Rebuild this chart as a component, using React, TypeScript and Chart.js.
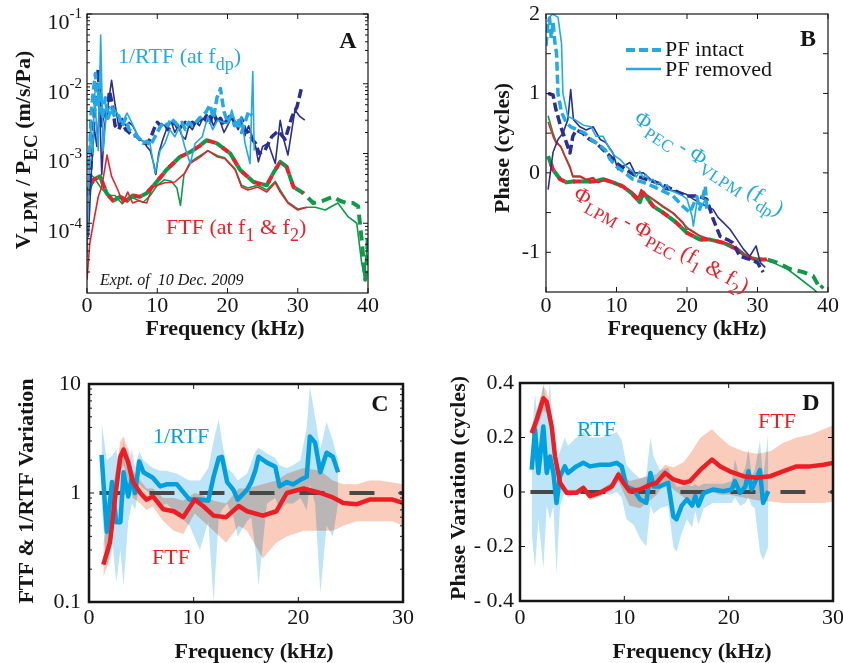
import React, { useEffect, useRef } from 'react';
import { Chart, registerables } from 'chart.js';

Chart.register(...registerables);

const W = 843;
const H = 663;
const SERIF = '"Liberation Serif", "Times New Roman", Times, serif';
const INK = '#151515';

const LB = '#23a9e4';
const DB = '#2b2f8f';
const RD = '#e6222c';
const GN = '#0e9a47';
const C_BLUE = '#00a0de';
const C_RED = '#ec1d25';
const BAND_BLUE = 'rgb(190,228,247)';
const BAND_SALMON = 'rgb(250,204,187)';
const REF_GRAY = 'rgb(72,72,72)';

// ---------------- Panel A : magnitude (m/s/Pa) ----------------
const aLbDashF = [0.3,0.6,0.9,1.2,1.5,1.8,2.2,2.6,3.0,3.5,4.0,4.5,5.0,5.5,6.0,6.5,7.0,7.5,8.0,8.5,9.0,9.5,10.0,10.5,11.0,11.5,12.0,12.5,13.0,13.5,14.0,14.5,15.0,15.5,16.0,16.5,17.0,17.5,18.0,18.5,19.0,19.5,20.0,20.5,21.0,21.5,22.0,22.5,23.0,23.5];
const aLbDashV = [6.3e-4,4.0e-3,7.9e-3,1.4e-2,5.0e-3,1.0e-2,3.2e-3,6.3e-3,3.2e-3,4.5e-3,3.2e-3,3.5e-3,2.5e-3,3.2e-3,2.2e-3,2.0e-3,1.8e-3,1.6e-3,1.4e-3,1.5e-3,1.3e-3,1.6e-3,2.0e-3,2.5e-3,2.8e-3,2.5e-3,3.2e-3,2.8e-3,2.5e-3,2.8e-3,2.2e-3,2.8e-3,2.5e-3,2.8e-3,3.2e-3,3.5e-3,4.0e-3,5.0e-3,3.2e-3,6.3e-3,8.5e-3,4.0e-3,2.8e-3,3.5e-3,2.5e-3,3.2e-3,2.0e-3,2.8e-3,4.0e-3,3.5e-3];
const aLbSolidF = [0.0,0.2,0.5,0.8,1.1,1.4,1.6,1.95,2.3,2.8,3.6,4.3,5.0,5.7,6.4,7.3,8.2,8.9,9.7,10.4,11.1,11.8,12.5,13.2,13.9,14.7,15.4,16.4,17.2,17.9,18.6,19.6,20.1,20.6,21.3,22.0,22.5,23.2,23.6,23.8];
const aLbSolidV = [3.2e-5,2.5e-4,2.5e-3,1.0e-3,7.4e-3,2.0e-3,1.1e-3,5.0e-2,1.1e-3,4.2e-3,4.7e-3,3.8e-3,2.75e-3,3.8e-3,2.75e-3,1.74e-3,1.4e-3,1.5e-3,5.2e-4,1.1e-3,1.4e-3,2.2e-3,1.74e-3,2.4e-3,1.26e-3,7.2e-4,1.4e-3,1.74e-3,3.4e-3,2.2e-3,3.0e-3,2.75e-3,2.75e-3,4.2e-3,2.4e-3,3.4e-3,1.4e-3,7.2e-4,1.5e-2,1.1e-3];
const aDbSolidF = [0.2,0.6,1.0,1.4,1.8,2.1,2.5,3.0,3.5,4.0,4.5,5.0,5.5,6.0,6.5,7.0,7.5,8.0,8.5,9.0,9.5,9.8,10.2,10.8,11.5,12.0,12.5,13.0,13.5,14.0,14.5,15.0,15.5,16.0,16.5,17.0,17.5,18.0,18.5,19.0,19.5,20.0,20.5,21.0,21.5,22.0,22.5,23.0,23.5,24.0,24.4,25.0,25.8,26.3,26.8,27.5,28.0,28.6,29.6,30.3,31.0];
const aDbSolidV = [6.3e-5,5.0e-4,2.5e-3,1.26e-3,5.0e-3,5.0e-4,2.5e-3,5.0e-3,1.12e-2,5.0e-3,2.5e-3,3.2e-3,2.5e-3,2.8e-3,2.5e-3,2.0e-3,1.6e-3,1.5e-3,1.26e-3,1.1e-3,7.1e-4,5.0e-4,1.0e-3,1.6e-3,2.5e-3,2.8e-3,2.0e-3,2.5e-3,1.8e-3,1.6e-3,2.5e-3,2.2e-3,2.8e-3,2.5e-3,3.2e-3,2.8e-3,3.5e-3,2.5e-3,3.2e-3,2.8e-3,2.0e-3,2.5e-3,3.2e-3,2.8e-3,2.2e-3,2.8e-3,1.8e-3,2.5e-3,1.8e-3,1.26e-3,7.6e-4,1.26e-3,1.4e-3,1.0e-3,7.2e-4,3.0e-3,1.6e-3,9.5e-4,4.2e-3,3.4e-3,3.0e-3];
const aDbDashF = [0.3,0.8,1.2,1.6,2.0,2.4,2.8,3.2,3.6,4.0,4.5,5.0,5.5,6.0,6.5,7.0,7.5,8.0,8.5,9.0,9.5,10.0,10.5,11.0,11.5,12.0,12.5,13.0,13.5,14.0,14.5,15.0,15.5,16.0,16.5,17.0,17.5,18.0,18.5,19.0,19.5,20.0,20.5,21.0,21.5,22.0,22.5,23.0,23.5,24.0,24.5,25.3,26.3,27.2,28.2,29.2,29.9,30.6];
const aDbDashV = [2.5e-4,1.6e-3,6.3e-3,1.6e-2,2.5e-3,4.0e-3,3.2e-3,7.9e-3,5.0e-3,2.5e-3,2.2e-3,2.8e-3,2.2e-3,2.0e-3,1.8e-3,1.8e-3,1.6e-3,1.4e-3,1.4e-3,1.6e-3,2.2e-3,2.8e-3,2.5e-3,2.8e-3,2.2e-3,2.5e-3,2.8e-3,2.2e-3,2.5e-3,2.8e-3,2.5e-3,2.8e-3,2.5e-3,3.2e-3,2.8e-3,3.5e-3,2.8e-3,4.0e-3,2.8e-3,3.2e-3,2.5e-3,3.2e-3,3.5e-3,2.8e-3,2.5e-3,3.2e-3,2.2e-3,2.0e-3,1.6e-3,1.4e-3,1.0e-3,1.1e-3,1.74e-3,2.1e-3,1.6e-3,3.4e-3,4.7e-3,9.3e-3];
const aFtfIntactF = [0.2,0.9,1.85,2.8,3.7,4.7,5.7,6.5,7.5,8.5,9.9,11.3,13.2,14.7,16.1,17.0,18.5,20.4,21.8,23.7,25.6,26.5,27.5,28.4,29.4,30.8,32.2,33.6,35.0,36.0,37.0,37.9,38.6,39.1,39.6,39.8,40.0];
const aFtfIntactV = [3.0e-4,4.2e-4,4.7e-4,2.7e-4,2.1e-4,2.4e-4,2.1e-4,2.5e-4,2.4e-4,2.7e-4,3.9e-4,5.8e-4,8.9e-4,1.05e-3,1.3e-3,1.55e-3,1.4e-3,1.0e-3,5.8e-4,3.9e-4,3.5e-4,5.2e-4,7.6e-4,6.5e-4,3.3e-4,2.7e-4,1.95e-4,2.1e-4,2.4e-4,2.1e-4,1.95e-4,1.95e-4,1.74e-4,5.8e-5,1.55e-5,2.7e-5,7.2e-5];
const aFtfRemRedF = [0.0,0.4,0.9,1.6,2.1,2.85,3.5,4.4,5.1,5.8,6.5,7.3,8.5,9.3,10.0,11.1,12.5,13.9,14.7,16.1,17.2,18.6,19.6,21.1,22.0,22.9,24.3,25.6,26.8,27.5,28.6,30.0,31.3];
const aFtfRemRedV = [1.55e-5,5.2e-5,1.0e-4,2.4e-4,3.3e-4,9.5e-4,4.7e-4,3.0e-4,1.95e-4,2.8e-4,1.95e-4,2.1e-4,1.95e-4,3.3e-4,3.5e-4,3.8e-4,3.9e-4,5.2e-4,7.2e-4,8.9e-4,1.1e-3,8.9e-4,8.5e-4,5.8e-4,3.3e-4,3.0e-4,3.3e-4,2.8e-4,3.8e-4,2.8e-4,1.95e-4,1.55e-4,1.7e-4];
const aFtfRemGreenF = [0.5,1.0,2.0,3.0,4.0,5.0,6.0,7.0,8.0,9.0,10.0,11.0,12.0,12.8,13.3,13.8,14.7,16.1,17.2,18.6,19.6,21.1,22.0,22.9,24.3,25.6,26.8,27.5,28.6,30.0,31.3,32.5,33.9,35.7,37.2,38.4,39.1,39.5,39.9];
const aFtfRemGreenV = [5.0e-4,4.5e-4,3.2e-4,2.5e-4,2.5e-4,1.9e-4,2.4e-4,2.2e-4,2.0e-4,2.5e-4,3.5e-4,4.2e-4,4.0e-4,3.2e-4,1.8e-4,5.0e-4,7.6e-4,9.3e-4,1.1e-3,9.3e-4,8.7e-4,6.0e-4,3.5e-4,3.2e-4,3.5e-4,3.0e-4,4.0e-4,3.0e-4,2.0e-4,1.6e-4,1.7e-4,1.7e-4,1.55e-4,1.95e-4,1.23e-4,1.0e-4,2.7e-5,1.7e-5,5.1e-5];
const aRedDashMaxF = 31;

// ---------------- Panel B : phase (cycles) ----------------
const bLbDashF = [0.0,0.25,0.5,0.75,1.0,1.25,1.5,1.7,2.2,2.9,3.5,4.5,5.5,6.4,7.4,8.4,9.1,10.0,11.2,12.3,13.8,15.2,16.6,18.0,19.4,20.4,21.4,21.8,22.6,22.8];
const bLbDashV = [1.6,1.85,1.95,1.7,1.9,1.65,1.5,1.0,0.76,0.63,0.58,0.54,0.5,0.42,0.36,0.29,0.17,0.08,0.0,-0.08,-0.12,-0.17,-0.23,-0.29,-0.42,-0.5,-0.3,-0.46,-0.17,-0.46];
const bLbSolidF = [0.2,0.6,1.0,1.3,1.7,2.2,2.4,3.1,4.1,5.3,6.4,7.1,8.1,9.1,9.8,10.5,11.4,12.3,12.8,13.3,13.8,14.2,14.7,15.2,15.7,16.2,16.7,17.2,17.6,18.5,19.4,20.0,20.7,20.9,21.4,22.1,22.6,23.0];
const bLbSolidV = [1.9,1.97,2.0,1.98,1.96,1.63,1.0,0.71,0.67,0.6,0.58,0.46,0.46,0.29,0.21,0.17,0.08,0.02,-0.05,0.02,-0.06,-0.02,-0.1,-0.08,-0.15,-0.12,-0.2,-0.15,-0.22,-0.25,-0.29,-0.33,-0.54,-0.67,-0.38,-0.42,-0.33,-0.42];
const bDbSolidF = [0.3,1.0,1.7,2.4,3.1,3.5,3.9,4.8,5.7,6.7,7.7,8.5,9.5,10.2,10.9,11.9,12.6,13.8,14.8,15.9,17.0,18.4,19.9,20.9,21.8,22.8,23.7,24.4,25.1,26.1,27.1,28.0,28.9,29.8,30.4,31.1];
const bDbSolidV = [-0.21,0.26,0.42,0.5,0.67,1.05,0.67,0.58,0.54,0.58,0.42,0.38,0.25,0.04,0.08,0.13,0.0,0.0,-0.08,-0.12,-0.21,-0.23,-0.27,-0.33,-0.38,-0.42,-0.46,-0.56,-0.62,-0.71,-0.84,-0.96,-1.05,-0.92,-1.13,-1.19];
const bDbDashF = [0.3,1.0,1.4,2.1,2.9,3.4,3.8,4.3,5.2,6.2,7.1,8.1,9.1,9.9,11.3,12.8,14.2,15.6,17.0,18.4,19.9,21.4,22.8,23.7,24.7,25.7,26.5,27.5,28.9,30.0,30.8];
const bDbDashV = [1.0,0.98,0.8,0.58,0.38,0.25,0.46,0.54,0.5,0.42,0.38,0.29,0.21,0.13,0.04,-0.04,-0.08,-0.12,-0.17,-0.23,-0.29,-0.29,-0.33,-0.58,-0.8,-0.84,-0.88,-1.05,-1.09,-1.13,-1.25];
const bFtfIntactF = [0.3,1.0,2.0,2.9,3.8,5.2,6.7,8.1,9.5,10.9,12.3,13.3,13.8,15.2,16.6,18.4,19.9,21.8,23.3,25.1,27.1,28.5,29.9,31.3,32.8,34.6,36.5,37.9,38.9,39.3];
const bFtfIntactV = [0.21,0.04,-0.08,-0.12,-0.11,-0.11,-0.11,-0.08,-0.12,-0.17,-0.27,-0.37,-0.25,-0.42,-0.5,-0.62,-0.75,-0.84,-0.84,-0.88,-0.96,-1.06,-1.09,-1.09,-1.13,-1.21,-1.25,-1.3,-1.46,-1.42];
const bFtfRemRedF = [0.3,1.0,1.4,2.1,2.7,3.4,3.8,4.8,5.7,6.7,7.4,8.5,9.5,10.9,12.1,13.1,13.5,14.2,15.2,16.6,18.0,19.4,19.9,20.4,21.8,23.3,24.7,26.1,27.2,28.5,29.9,31.3];
const bFtfRemRedV = [0.64,0.46,0.38,0.33,0.21,0.08,-0.04,-0.04,-0.08,-0.06,-0.12,-0.08,-0.12,-0.17,-0.23,-0.31,-0.21,-0.27,-0.33,-0.42,-0.5,-0.62,-0.71,-0.71,-0.79,-0.84,-0.86,-0.9,-0.96,-1.06,-1.09,-1.09];
const bFtfRemGreenF = [0.3,1.0,1.4,2.1,2.7,3.4,3.8,4.8,5.7,6.7,7.4,8.5,9.5,10.9,12.1,13.1,13.5,14.2,15.2,16.6,18.0,19.4,20.4,21.8,23.3,24.7,26.1,27.2,28.5,29.9,31.3,32.2,34.2,36.0,37.9,38.4];
const bFtfRemGreenV = [0.72,0.5,0.4,0.33,0.2,0.06,-0.05,-0.05,-0.09,-0.07,-0.12,-0.09,-0.13,-0.18,-0.24,-0.32,-0.23,-0.28,-0.34,-0.43,-0.51,-0.63,-0.72,-0.8,-0.85,-0.87,-0.91,-0.97,-1.07,-1.1,-1.1,-1.13,-1.21,-1.33,-1.46,-1.5];
const bRedDashMaxF = 31.5;

// ---------------- Panel C : FTF & 1/RTF variation ----------------
const cFtfF = [1.37,2.0,2.5,3.0,3.3,3.75,4.2,4.9,5.5,6.1,7.1,8.1,9.0,10.1,10.9,11.9,13.1,14.3,15.1,16.6,17.9,18.9,20.5,22.1,23.3,24.3,25.6,26.8,27.8,29.0,30.0];
const cFtfV = [0.22,0.35,0.93,2.15,2.5,1.9,1.26,1.0,0.87,0.93,0.71,0.68,0.6,0.87,0.76,0.62,0.6,0.76,0.68,0.62,0.68,1.0,1.1,1.0,0.91,0.81,0.79,0.87,0.87,0.87,0.81];
const cFtfHi = [0.35,0.7,1.5,3.0,3.3,2.5,1.6,1.3,1.1,1.1,0.9,0.9,0.85,1.0,0.95,0.85,0.8,1.1,1.1,1.2,1.3,1.5,1.7,1.6,1.3,1.2,1.2,1.3,1.3,1.25,1.2];
const cFtfLo = [0.17,0.25,0.6,1.6,1.8,1.3,0.9,0.8,0.7,0.75,0.55,0.45,0.42,0.65,0.55,0.45,0.35,0.5,0.45,0.25,0.35,0.4,0.45,0.45,0.45,0.5,0.55,0.55,0.55,0.55,0.5];
const cRtfF = [1.2,1.7,2.2,2.6,3.0,3.3,3.75,4.1,4.4,4.8,5.2,6.1,6.8,7.4,8.4,9.6,10.6,11.4,11.9,12.4,12.7,13.2,13.8,14.2,15.1,15.5,15.9,16.2,17.0,17.8,18.2,18.9,19.5,20.2,20.8,21.1,21.6,22.1,22.7,23.3,23.8];
const cRtfV = [2.24,0.44,1.26,0.54,0.54,1.55,0.93,1.41,1.0,1.95,1.55,1.38,1.15,1.2,1.2,0.87,0.87,0.85,1.41,2.1,2.15,1.26,1.07,0.87,1.07,1.26,1.62,2.15,1.9,1.74,1.15,1.26,1.2,1.32,1.41,3.3,2.9,1.55,2.34,2.15,1.55];
const cRtfHi = [4.5,2.0,2.2,2.5,1.5,3.0,1.8,2.5,1.7,2.4,2.0,1.7,1.6,1.6,1.5,1.3,1.3,1.7,3.0,4.8,3.0,1.7,1.5,1.3,1.5,1.9,2.4,2.6,2.3,2.1,1.8,1.7,1.8,2.0,4.0,9.5,5.0,2.5,4.5,3.0,2.0];
const cRtfLo = [0.8,0.2,0.4,0.15,0.3,0.14,0.55,0.8,0.7,1.2,1.1,0.95,0.75,0.8,0.65,0.5,0.3,0.55,0.1,0.6,0.7,0.8,0.6,0.4,0.55,0.6,0.3,0.14,0.8,0.9,0.7,0.8,0.8,0.9,0.7,1.2,0.8,0.12,0.5,0.4,0.8];

// ---------------- Panel D : phase variation (cycles) ----------------
const dFtfF = [1.12,1.6,2.24,2.56,3.04,3.36,3.84,4.47,5.4,6.07,6.7,7.67,8.79,9.43,9.9,10.5,11.5,12.5,13.1,13.9,14.7,15.7,16.3,17.3,18.4,19.2,20.1,21.4,22.7,24.0,25.2,26.5,27.8,29.1,30.0];
const dFtfV = [0.216,0.265,0.344,0.33,0.24,0.13,0.034,-0.003,-0.003,0.015,-0.015,-0.003,0.02,0.064,0.034,0.003,0.009,0.027,0.034,0.07,0.046,0.034,0.04,0.082,0.119,0.094,0.076,0.058,0.052,0.058,0.076,0.094,0.094,0.1,0.107];
const dFtfHi = [0.23,0.3,0.39,0.37,0.28,0.17,0.05,0.008,0.008,0.025,0.0,0.008,0.035,0.08,0.06,0.04,0.05,0.06,0.065,0.1,0.09,0.11,0.14,0.2,0.23,0.2,0.17,0.15,0.14,0.15,0.18,0.2,0.21,0.23,0.245];
const dFtfLo = [0.2,0.23,0.3,0.29,0.2,0.09,0.015,-0.012,-0.012,0.003,-0.03,-0.015,0.005,0.04,0.0,-0.05,-0.06,-0.03,-0.01,0.035,0.01,-0.02,-0.03,-0.02,0.0,-0.01,-0.01,-0.02,-0.03,-0.035,-0.04,-0.04,-0.04,-0.04,-0.035];
const dRtfF = [1.12,1.44,1.76,2.24,2.56,2.88,3.2,3.5,3.84,4.3,4.6,5.4,6.07,6.7,7.67,8.6,9.27,9.75,10.2,10.9,11.5,12.1,12.5,12.8,13.4,14.2,14.7,15.0,15.5,16.0,16.5,16.8,17.1,17.6,18.5,19.5,20.3,20.6,21.1,21.6,21.9,22.2,22.5,23.0,23.3,23.8];
const dRtfV = [0.082,0.23,0.07,0.24,0.07,0.13,0.07,-0.04,0.058,0.094,0.07,0.094,0.107,0.094,0.1,0.1,0.107,0.094,0.02,0.009,-0.027,-0.04,0.07,0.02,0.02,0.034,-0.09,-0.1,-0.05,-0.027,-0.05,-0.015,-0.05,-0.003,0.009,0.003,0.009,0.04,-0.003,0.02,0.076,0.009,0.034,0.08,-0.04,0.003];
const dRtfHi = [0.2,0.36,0.25,0.4,0.3,0.4,0.2,0.12,0.15,0.2,0.17,0.2,0.22,0.2,0.2,0.21,0.22,0.19,0.1,0.07,0.05,0.06,0.2,0.13,0.08,0.09,0.04,0.02,0.02,0.03,0.02,0.03,0.02,0.03,0.03,0.03,0.04,0.12,0.05,0.09,0.16,0.06,0.08,0.19,0.05,0.22];
const dRtfLo = [-0.15,-0.28,-0.1,-0.28,-0.05,-0.1,-0.05,-0.3,-0.05,0.0,-0.02,0.0,0.01,0.0,0.0,-0.01,0.0,-0.02,-0.1,-0.12,-0.17,-0.2,-0.05,-0.08,-0.06,-0.05,-0.2,-0.22,-0.15,-0.1,-0.13,-0.07,-0.12,-0.06,-0.04,-0.04,-0.04,-0.02,-0.05,-0.04,-0.02,-0.05,-0.06,-0.22,-0.25,-0.2];

// reference (no-variation) lines
const refF = [1, 30];
const refC = [1, 1];
const refD = [0, 0];

// ticks
const aXTicks = [0, 10, 20, 30, 40];
const aYTicks = [1e-1, 1e-2, 1e-3, 1e-4];
const aYExps = ['-1', '-2', '-3', '-4'];
const bXTicks = [0, 10, 20, 30, 40];
const bYTicks = [2, 1, 0, -1];
const bYLabels = ['2', '1', '0', '-1'];
const bYMarks = [1.5, 1, 0.5, 0, -0.5, -1];
const cXTicks = [0, 10, 20, 30];
const cYTicks = [10, 1, 0.1];
const cYLabels = ['10', '1', '0.1'];
const dXTicks = [0, 10, 20, 30];
const dYTicks = [0.4, 0.2, 0, -0.2, -0.4];
const dYLabels = ['0.4', '0.2', '0', '- 0.2', '- 0.4'];

// ---------------- helpers ----------------
const xy = (f: number[], v: number[]) => f.map((x, i) => ({ x, y: v[i] }));

function ln(data: any[], color: string, width: number, dash: number[] = [], dashOffset = 0) {
  return {
    data, borderColor: color, backgroundColor: color, borderWidth: width,
    borderDash: dash, borderDashOffset: dashOffset, pointRadius: 0, pointHoverRadius: 0,
    fill: false, tension: 0, borderCapStyle: 'butt', borderJoinStyle: 'round',
  };
}
function band(data: any[], color: string, fill: any) {
  return {
    data, borderColor: 'rgba(0,0,0,0)', borderWidth: 0, backgroundColor: color,
    pointRadius: 0, pointHoverRadius: 0, fill, tension: 0,
  };
}

type Seg = [string, string?];
interface RichOpts {
  size: number; small?: number; subDy?: number; supDy?: number;
  weight?: string; italic?: boolean; color?: string;
  align?: 'left' | 'center' | 'right'; rot?: number;
}
function drawRich(ctx: CanvasRenderingContext2D, segs: Seg[], x: number, y: number, o: RichOpts) {
  const small = o.small ?? Math.round(o.size * 0.75);
  const font = (s: number) => `${o.italic ? 'italic ' : ''}${o.weight ?? 'normal'} ${s}px ${SERIF}`;
  const widths = segs.map(([t, k]) => { ctx.font = font(k ? small : o.size); return ctx.measureText(t).width; });
  const total = widths.reduce((a, b) => a + b, 0);
  ctx.save();
  ctx.translate(x, y);
  if (o.rot) ctx.rotate(o.rot);
  ctx.fillStyle = o.color ?? INK;
  ctx.textAlign = 'left';
  ctx.textBaseline = 'middle';
  let cx = o.align === 'center' ? -total / 2 : o.align === 'right' ? -total : 0;
  segs.forEach(([t, k], i) => {
    ctx.font = font(k ? small : o.size);
    const dy = k === 'sub' ? (o.subDy ?? o.size * 0.35) : k === 'sup' ? (o.supDy ?? -o.size * 0.4) : 0;
    ctx.fillText(t, cx, dy);
    cx += widths[i];
  });
  ctx.restore();
}

function frame(ctx: CanvasRenderingContext2D, ca: any, lw: number) {
  ctx.save();
  ctx.strokeStyle = INK; ctx.lineWidth = lw; ctx.setLineDash([]);
  ctx.strokeRect(ca.left, ca.top, ca.right - ca.left, ca.bottom - ca.top);
  ctx.restore();
}
function xMarks(ctx: CanvasRenderingContext2D, ca: any, px: number[], len: number, lw = 1) {
  ctx.save(); ctx.strokeStyle = INK; ctx.lineWidth = lw; ctx.beginPath();
  px.forEach(p => { ctx.moveTo(p, ca.bottom); ctx.lineTo(p, ca.bottom - len); ctx.moveTo(p, ca.top); ctx.lineTo(p, ca.top + len); });
  ctx.stroke(); ctx.restore();
}
function yMarks(ctx: CanvasRenderingContext2D, ca: any, py: number[], len: number, lw = 1) {
  ctx.save(); ctx.strokeStyle = INK; ctx.lineWidth = lw; ctx.beginPath();
  py.forEach(p => { ctx.moveTo(ca.left, p); ctx.lineTo(ca.left + len, p); ctx.moveTo(ca.right, p); ctx.lineTo(ca.right - len, p); });
  ctx.stroke(); ctx.restore();
}
function logMinor(decadeFrom: number, decadeTo: number) {
  const out: number[] = [];
  for (let e = decadeFrom; e < decadeTo; e++) for (let k = 2; k <= 9; k++) out.push(k * Math.pow(10, e));
  return out;
}

const decor = (fn: (chart: any, ctx: CanvasRenderingContext2D, ca: any, xs: any, ys: any) => void) => ({
  id: 'decor',
  afterDraw(chart: any) {
    const ctx = chart.ctx;
    ctx.save();
    fn(chart, ctx, chart.chartArea, chart.scales.x, chart.scales.y);
    ctx.restore();
  },
});

// bands are blended with "multiply" so that overlapping bands turn grey
const bandBlend = () => {
  let active = false;
  return {
    id: 'bandBlend',
    beforeDraw(chart: any) { chart.ctx.save(); chart.ctx.globalCompositeOperation = 'multiply'; active = true; },
    beforeDatasetDraw(chart: any) { if (active) { chart.ctx.restore(); active = false; } },
    afterDatasetsDraw(chart: any) { if (active) { chart.ctx.restore(); active = false; } },
  };
};

const TITLE = { size: 22, weight: 'bold' };
const ROT = -Math.PI / 2;

// ---------------- decorations per panel ----------------
function decorA(chart: any, ctx: CanvasRenderingContext2D, ca: any, xs: any, ys: any) {
  xMarks(ctx, ca, aXTicks.map(v => xs.getPixelForValue(v)), 5);
  yMarks(ctx, ca, aYTicks.map(v => ys.getPixelForValue(v)), 5);
  yMarks(ctx, ca, logMinor(-5, -1).map(v => ys.getPixelForValue(v)), 3);
  frame(ctx, ca, 1.2);
  aXTicks.forEach(v => drawRich(ctx, [[String(v)]], xs.getPixelForValue(v), 306, { size: 22, align: 'center' }));
  aYTicks.forEach((v, i) => drawRich(ctx, [['10'], [aYExps[i], 'sup']], 82, ys.getPixelForValue(v) + 9,
    { size: 22, small: 15, supDy: -8.5, align: 'right' }));
  drawRich(ctx, [['Frequency (kHz)']], 225, 329, { ...TITLE, align: 'center' });
  drawRich(ctx, [['V'], ['LPM', 'sub'], [' / P'], ['EC', 'sub'], [' (m/s/Pa)']], 24, 150,
    { ...TITLE, small: 19, subDy: 8, align: 'center', rot: ROT });
  drawRich(ctx, [['A']], 348, 42, { size: 24, weight: 'bold', align: 'center' });
  drawRich(ctx, [['1/RTF (at f'], ['dp', 'sub'], [')']], 118, 57, { size: 22, small: 18, subDy: 8, color: LB });
  drawRich(ctx, [['FTF (at f'], ['1', 'sub'], [' & f'], ['2', 'sub'], [')']], 166, 228, { size: 22, small: 18, subDy: 8, color: RD });
  drawRich(ctx, [['Expt. of  10 Dec. 2009']], 100, 281, { size: 16, italic: true });
}

function decorB(chart: any, ctx: CanvasRenderingContext2D, ca: any, xs: any, ys: any) {
  xMarks(ctx, ca, bXTicks.map(v => xs.getPixelForValue(v)), 5);
  yMarks(ctx, ca, bYMarks.map(v => ys.getPixelForValue(v)), 5);
  frame(ctx, ca, 1.2);
  bXTicks.forEach(v => drawRich(ctx, [[String(v)]], xs.getPixelForValue(v), 306, { size: 22, align: 'center' }));
  bYTicks.forEach((v, i) => drawRich(ctx, [[bYLabels[i]]], 540, ys.getPixelForValue(v), { size: 22, align: 'right' }));
  drawRich(ctx, [['Frequency (kHz)']], 687, 329, { ...TITLE, align: 'center' });
  drawRich(ctx, [['Phase (cycles)']], 503, 148, { ...TITLE, align: 'center', rot: ROT });
  drawRich(ctx, [['B']], 808, 40, { size: 24, weight: 'bold', align: 'center' });
  // legend
  ctx.save();
  ctx.strokeStyle = LB; ctx.lineCap = 'butt';
  ctx.lineWidth = 4; ctx.setLineDash([9, 4]);
  ctx.beginPath(); ctx.moveTo(626, 50); ctx.lineTo(661, 50); ctx.stroke();
  ctx.lineWidth = 2.5; ctx.setLineDash([]);
  ctx.beginPath(); ctx.moveTo(626, 69); ctx.lineTo(661, 69); ctx.stroke();
  ctx.restore();
  drawRich(ctx, [['PF intact']], 665, 50, { size: 22 });
  drawRich(ctx, [['PF removed']], 665, 70, { size: 22 });
  drawRich(ctx, [['Φ'], ['PEC', 'sub'], [' - Φ'], ['VLPM', 'sub'], [' (f'], ['dp', 'sub'], [')']], 636, 117,
    { size: 22, small: 17, subDy: 8, color: LB, rot: 33 * Math.PI / 180 });
  drawRich(ctx, [['Φ'], ['LPM', 'sub'], [' - Φ'], ['PEC', 'sub'], [' (f'], ['1', 'sub'], [' & f'], ['2', 'sub'], [')']], 575, 193,
    { size: 22, small: 17, subDy: 8, color: RD, rot: 29 * Math.PI / 180 });
}

function decorC(chart: any, ctx: CanvasRenderingContext2D, ca: any, xs: any, ys: any) {
  xMarks(ctx, ca, cXTicks.map(v => xs.getPixelForValue(v)), 5);
  yMarks(ctx, ca, cYTicks.map(v => ys.getPixelForValue(v)), 5);
  yMarks(ctx, ca, logMinor(-1, 1).map(v => ys.getPixelForValue(v)), 3);
  frame(ctx, ca, 2.5);
  cXTicks.forEach(v => drawRich(ctx, [[String(v)]], xs.getPixelForValue(v), 618, { size: 22, align: 'center' }));
  cYTicks.forEach((v, i) => drawRich(ctx, [[cYLabels[i]]], 81, ys.getPixelForValue(v), { size: 22, align: 'right' }));
  drawRich(ctx, [['Frequency (kHz)']], 254, 652, { ...TITLE, align: 'center' });
  drawRich(ctx, [['FTF & 1/RTF Variation']], 27, 491, { ...TITLE, align: 'center', rot: ROT });
  drawRich(ctx, [['C']], 380, 405, { size: 24, weight: 'bold', align: 'center' });
  drawRich(ctx, [['1/RTF']], 153, 437, { size: 22, color: C_BLUE });
  drawRich(ctx, [['FTF']], 152, 558, { size: 22, color: C_RED });
}

function decorD(chart: any, ctx: CanvasRenderingContext2D, ca: any, xs: any, ys: any) {
  xMarks(ctx, ca, dXTicks.map(v => xs.getPixelForValue(v)), 5);
  yMarks(ctx, ca, dYTicks.map(v => ys.getPixelForValue(v)), 5);
  frame(ctx, ca, 2.5);
  dXTicks.forEach(v => drawRich(ctx, [[String(v)]], xs.getPixelForValue(v), 618, { size: 22, align: 'center' }));
  dYTicks.forEach((v, i) => drawRich(ctx, [[dYLabels[i]]], 514, ys.getPixelForValue(v), { size: 22, align: 'right' }));
  drawRich(ctx, [['Frequency (kHz)']], 692, 652, { ...TITLE, align: 'center' });
  drawRich(ctx, [['Phase Variation (cycles)']], 459, 488, { ...TITLE, align: 'center', rot: ROT });
  drawRich(ctx, [['D']], 811, 404, { size: 24, weight: 'bold', align: 'center' });
  drawRich(ctx, [['RTF']], 577, 430, { size: 22, color: C_BLUE });
  drawRich(ctx, [['FTF']], 758, 422, { size: 22, color: C_RED });
}

function makeConfig(area: { l: number; t: number; r: number; b: number }, xMax: number, yScale: any,
  datasets: any[], fn: any, blend: boolean) {
  const plugins: any[] = [];
  if (blend) plugins.push(bandBlend());
  plugins.push(decor(fn));
  return {
    type: 'line',
    data: { datasets },
    options: {
      responsive: false,
      animation: false,
      events: [],
      layout: { autoPadding: false, padding: { left: area.l, top: area.t, right: W - area.r, bottom: H - area.b } },
      scales: {
        x: { type: 'linear', min: 0, max: xMax, display: false },
        y: { ...yScale, display: false },
      },
      plugins: {
        legend: { display: false },
        tooltip: { enabled: false },
        filler: { drawTime: 'beforeDatasetsDraw', propagate: false },
      },
    },
    plugins,
  } as any;
}

export default function App() {
  const r0 = useRef<HTMLCanvasElement>(null);
  const r1 = useRef<HTMLCanvasElement>(null);
  const r2 = useRef<HTMLCanvasElement>(null);
  const r3 = useRef<HTMLCanvasElement>(null);

  useEffect(() => {
    const aData = [
      ln(xy(aLbSolidF, aLbSolidV), LB, 1.6),
      ln(xy(aLbDashF, aLbDashV), LB, 3.5, [9, 4]),
      ln(xy(aDbSolidF, aDbSolidV), DB, 1.6),
      ln(xy(aDbDashF, aDbDashV), DB, 3.5, [9, 4]),
      ln(xy(aFtfIntactF, aFtfIntactV).filter(p => p.x <= aRedDashMaxF), RD, 4, [8, 8], 8),
      ln(xy(aFtfRemRedF, aFtfRemRedV), RD, 1.6),
      ln(xy(aFtfIntactF, aFtfIntactV), GN, 4, [10, 6]),
      ln(xy(aFtfRemGreenF, aFtfRemGreenV), GN, 1.6),
    ];
    const bData = [
      ln(xy(bLbSolidF, bLbSolidV), LB, 1.6),
      ln(xy(bLbDashF, bLbDashV), LB, 3.5, [9, 4]),
      ln(xy(bDbSolidF, bDbSolidV), DB, 1.6),
      ln(xy(bDbDashF, bDbDashV), DB, 3.5, [9, 4]),
      ln(xy(bFtfIntactF, bFtfIntactV).filter(p => p.x <= bRedDashMaxF), RD, 4, [8, 8], 8),
      ln(xy(bFtfRemRedF, bFtfRemRedV), RD, 1.6),
      ln(xy(bFtfIntactF, bFtfIntactV), GN, 4, [10, 6]),
      ln(xy(bFtfRemGreenF, bFtfRemGreenV), GN, 1.6),
    ];
    const cData = [
      ln(xy(cFtfF, cFtfV), C_RED, 4.5),
      ln(xy(cRtfF, cRtfV), C_BLUE, 4.5),
      ln(xy(refF, refC), REF_GRAY, 4, [25, 25]),
      band(xy(cFtfF, cFtfHi), BAND_SALMON, '+1'),
      band(xy(cFtfF, cFtfLo), BAND_SALMON, false),
      band(xy(cRtfF, cRtfHi), BAND_BLUE, '+1'),
      band(xy(cRtfF, cRtfLo), BAND_BLUE, false),
    ];
    const dData = [
      ln(xy(dFtfF, dFtfV), C_RED, 4.5),
      ln(xy(dRtfF, dRtfV), C_BLUE, 4.5),
      ln(xy(refF, refD), REF_GRAY, 4, [25, 25]),
      band(xy(dFtfF, dFtfHi), BAND_SALMON, '+1'),
      band(xy(dFtfF, dFtfLo), BAND_SALMON, false),
      band(xy(dRtfF, dRtfHi), BAND_BLUE, '+1'),
      band(xy(dRtfF, dRtfLo), BAND_BLUE, false),
    ];
    const charts = [
      new Chart(r0.current!, makeConfig({ l: 87, t: 14, r: 368, b: 293 }, 40,
        { type: 'logarithmic', min: 1e-5, max: 1e-1 }, aData, decorA, false)),
      new Chart(r1.current!, makeConfig({ l: 546, t: 14, r: 828, b: 292 }, 40,
        { type: 'linear', min: -1.5, max: 2 }, bData, decorB, false)),
      new Chart(r2.current!, makeConfig({ l: 89, t: 384, r: 403, b: 602 }, 30,
        { type: 'logarithmic', min: 0.1, max: 10 }, cData, decorC, true)),
      new Chart(r3.current!, makeConfig({ l: 520, t: 383, r: 833, b: 601 }, 30,
        { type: 'linear', min: -0.4, max: 0.4 }, dData, decorD, true)),
    ];
    return () => charts.forEach(c => c.destroy());
  }, []);

  const cs: React.CSSProperties = { position: 'absolute', left: 0, top: 0, width: W, height: H };
  return (
    <div style={{ position: 'absolute', left: 0, top: 0, width: W, height: H, background: '#fff', overflow: 'hidden' }}>
      <canvas ref={r0} width={W} height={H} style={cs} />
      <canvas ref={r1} width={W} height={H} style={cs} />
      <canvas ref={r2} width={W} height={H} style={cs} />
      <canvas ref={r3} width={W} height={H} style={cs} />
    </div>
  );
}
